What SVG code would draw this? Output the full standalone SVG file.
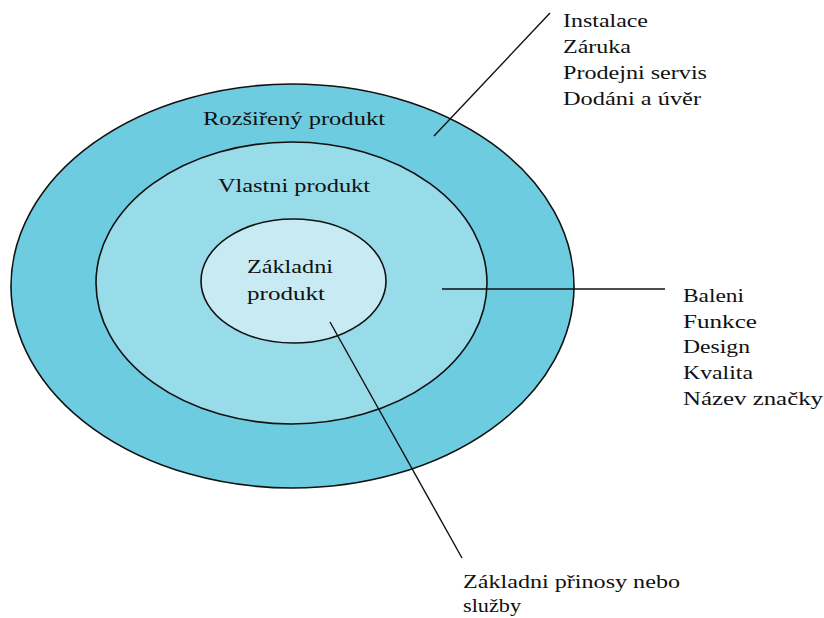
<svg xmlns="http://www.w3.org/2000/svg" width="824" height="618" viewBox="0 0 824 618">
<style>
.ring{stroke:#111;stroke-width:1.6}
.t{font-family:"Liberation Serif","Times New Roman",serif;font-size:18px;fill:#111}
.ln{stroke:#111;stroke-width:1.4;fill:none}
</style>
<rect width="824" height="618" fill="#fff"/>
<g id="outer">
<ellipse class="ring" cx="292.5" cy="286" rx="281.5" ry="202" fill="#6ECCE1"/>
<text class="t" x="203" y="125" textLength="182" lengthAdjust="spacingAndGlyphs">Rozšiřený produkt</text>
</g>
<g id="middle">
<ellipse class="ring" cx="291.5" cy="283" rx="195.5" ry="141" fill="#99DCE9"/>
<text class="t" x="218" y="192" textLength="152" lengthAdjust="spacingAndGlyphs">Vlastni produkt</text>
</g>
<g id="inner">
<ellipse class="ring" cx="293.5" cy="281" rx="92.5" ry="62" fill="#C8EBF3"/>
<text class="t" x="247" y="273" textLength="86" lengthAdjust="spacingAndGlyphs">Základni</text>
<text class="t" x="247" y="300" textLength="78" lengthAdjust="spacingAndGlyphs">produkt</text>
</g>
<g id="connectors">
<line class="ln" x1="434" y1="136" x2="550" y2="13"/>
<line class="ln" x1="442" y1="289" x2="665" y2="289"/>
<line class="ln" x1="330" y1="322" x2="462" y2="558"/>
</g>
<g id="label-rozsireny">
<text class="t" x="563" y="27" textLength="85" lengthAdjust="spacingAndGlyphs">Instalace</text>
<text class="t" x="563" y="53" textLength="68" lengthAdjust="spacingAndGlyphs">Záruka</text>
<text class="t" x="563" y="79" textLength="144" lengthAdjust="spacingAndGlyphs">Prodejni servis</text>
<text class="t" x="563" y="105" textLength="138" lengthAdjust="spacingAndGlyphs">Dodáni a úvěr</text>
</g>
<g id="label-vlastni">
<text class="t" x="683" y="302" textLength="61" lengthAdjust="spacingAndGlyphs">Baleni</text>
<text class="t" x="683" y="328" textLength="74" lengthAdjust="spacingAndGlyphs">Funkce</text>
<text class="t" x="683" y="353" textLength="67" lengthAdjust="spacingAndGlyphs">Design</text>
<text class="t" x="683" y="379" textLength="70" lengthAdjust="spacingAndGlyphs">Kvalita</text>
<text class="t" x="683" y="405" textLength="140" lengthAdjust="spacingAndGlyphs">Název značky</text>
</g>
<g id="label-zakladni">
<text class="t" x="463" y="588" textLength="217" lengthAdjust="spacingAndGlyphs">Základni přinosy nebo</text>
<text class="t" x="463" y="612" textLength="58" lengthAdjust="spacingAndGlyphs">služby</text>
</g>
</svg>
